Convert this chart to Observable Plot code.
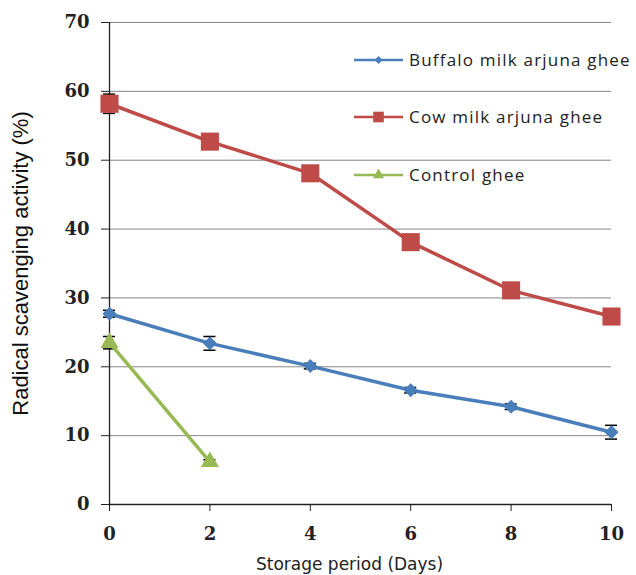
<!DOCTYPE html>
<html>
<head>
<meta charset="utf-8">
<script src="https://cdn.jsdelivr.net/npm/d3@7"></script>
<script src="https://cdn.jsdelivr.net/npm/@observablehq/plot@0.6"></script>
<style>
  html, body { margin: 0; padding: 0; background: white; }
  #chart svg { display: block; }
  #chart g[aria-label="y-axis tick label"] text,
  #chart g[aria-label="x-axis tick label"] text {
    font-family: "DejaVu Serif", serif; font-weight: bold; font-size: 18px; fill: #222;
  }
</style>
</head>
<body>
<div id="chart"></div>
<script>
// ---- data ----
const days = [0, 2, 4, 6, 8, 10];
const buffalo = [27.7, 23.4, 20.1, 16.6, 14.2, 10.5];
const buffaloErr = [0.5, 1.0, 0.4, 0.4, 0.4, 1.0];
const cow = [58.2, 52.7, 48.1, 38.1, 31.1, 27.3];
const cowErr = [1.4, 0.4, 0.4, 0.4, 0.7, 0.9];
const controlDays = [0, 2];
const control = [23.5, 6.2];
const controlErr = [0.9, 0.3];
const seriesNames = ["Buffalo milk arjuna ghee", "Cow milk arjuna ghee", "Control ghee"];
const seriesColors = ["#4A7EBB", "#BE4B48", "#98B954"];
const seriesSymbols = ["diamond2", "square", "triangle"];
const yTicks = [0, 10, 20, 30, 40, 50, 60, 70];
const xTicks = [0, 2, 4, 6, 8, 10];
const xTitle = "Storage period (Days)";
const yTitle = "Radical scavenging activity (%)";

// build tables
const tables = [
  days.map((d, i) => ({day: d, value: buffalo[i], err: buffaloErr[i]})),
  days.map((d, i) => ({day: d, value: cow[i], err: cowErr[i]})),
  controlDays.map((d, i) => ({day: d, value: control[i], err: controlErr[i]}))
];
const symbolR = [6.3, 10.2, 6.7];
const legendR = [3.6, 6.0, 4.2];

const marks = [
  Plot.gridY(yTicks, {stroke: "#868686", strokeOpacity: 1, strokeWidth: 1}),
  Plot.ruleX([0], {y1: 0, y2: 70, stroke: "#222", strokeWidth: 1.3}),
  Plot.ruleY([0], {stroke: "#222", strokeWidth: 1.3}),
  Plot.axisY(yTicks, {tickSize: 8, tickPadding: 12, label: null, stroke: "#222"}),
  Plot.axisX(xTicks, {tickSize: 7, tickPadding: 16, label: null, stroke: "#222"}),
  Plot.text([yTitle], {frameAnchor: "left", textAnchor: "middle", dx: -89, rotate: -90, fontSize: 22, fontFamily: "Liberation Sans", fill: "#111"}),
  Plot.text([xTitle], {frameAnchor: "bottom", textAnchor: "middle", dx: -11, dy: 65, fontSize: 17, fontFamily: "DejaVu Sans", fill: "#222", letterSpacing: "1.5px"})
];
tables.forEach((t, i) => {
  marks.push(Plot.ruleX(t, {x: "day", y1: d => d.value - d.err, y2: d => d.value + d.err, stroke: "black", strokeWidth: 1.3}));
  marks.push(Plot.ruleY(t, {y: d => d.value - d.err, x1: d => d.day - 0.12, x2: d => d.day + 0.12, stroke: "black", strokeWidth: 1.5}));
  marks.push(Plot.ruleY(t, {y: d => d.value + d.err, x1: d => d.day - 0.12, x2: d => d.day + 0.12, stroke: "black", strokeWidth: 1.5}));
  marks.push(Plot.line(t, {x: "day", y: "value", stroke: seriesColors[i], strokeWidth: 3.5}));
  marks.push(Plot.dot(t, {x: "day", y: "value", symbol: () => seriesSymbols[i], r: symbolR[i], fill: seriesColors[i], stroke: "none"}));
});

const chart = Plot.plot({
  width: 636, height: 575,
  marginLeft: 109, marginRight: 25, marginTop: 22, marginBottom: 71,
  x: {domain: [0, 10]},
  y: {domain: [0, 70]},
  symbol: {type: "identity"},
  style: {background: "white", overflow: "visible"},
  marks
});

// legend inside the plot area (top right)
const svg = d3.select(chart);
const lg = svg.append("g");
const legendY = [60, 117, 175];
const symTypes = [d3.symbolDiamond2, d3.symbolSquare, d3.symbolTriangle];
seriesNames.forEach((name, i) => {
  const g = lg.append("g").attr("transform", `translate(354,${legendY[i]})`);
  g.append("line").attr("x1", 0).attr("x2", 49).attr("stroke", seriesColors[i]).attr("stroke-width", 2.5);
  g.append("path").attr("transform", "translate(24.5,0)")
    .attr("d", d3.symbol(symTypes[i], Math.PI * legendR[i] * legendR[i])())
    .attr("fill", seriesColors[i]);
  g.append("text").attr("x", 55).attr("dy", "0.35em").attr("text-anchor", "start").text(name)
    .attr("font-family", "'Open Sans', sans-serif").attr("font-size", 17)
    .attr("letter-spacing", "1.2px").attr("fill", "#222");
});

document.getElementById("chart").appendChild(chart);
</script>
</body>
</html>
